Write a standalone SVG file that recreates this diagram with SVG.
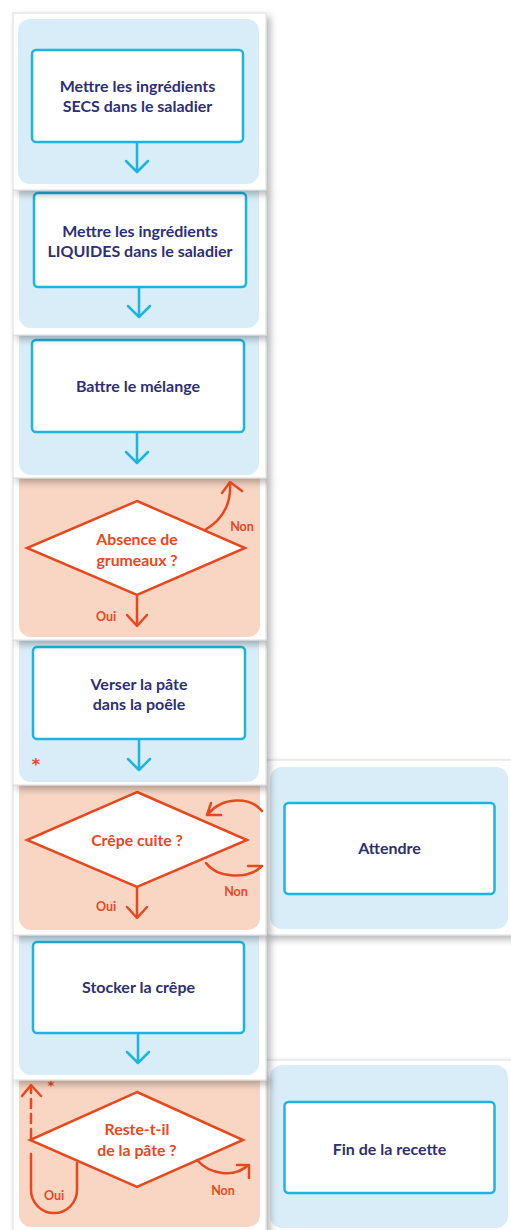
<svg xmlns="http://www.w3.org/2000/svg" width="511" height="1230" viewBox="0 0 511 1230">
<defs>
<filter id="sh" x="-10%" y="-10%" width="130%" height="130%">
<feDropShadow dx="4" dy="4" stdDeviation="3.5" flood-color="#000" flood-opacity="0.28"/>
</filter>
<style>
.card{fill:#fff;stroke:#dcdcdc;stroke-width:1}
.bbg{fill:#d9edf8}
.obg{fill:#f9d6c4}
.box{fill:#fff;stroke:#1cb4e0;stroke-width:2.5}
.dia{fill:#fff;stroke:#e7481e;stroke-width:2.5;stroke-linejoin:miter}
.bar{fill:none;stroke:#1cb4e0;stroke-width:2.5;stroke-linecap:round;stroke-linejoin:round}
.oar{fill:none;stroke:#e7481e;stroke-width:2.5;stroke-linecap:round;stroke-linejoin:round}
.t{font-family:Lato,"Liberation Sans",sans-serif;font-weight:700;font-size:16px;fill:#2d2f78;text-anchor:middle}
.d{font-family:Lato,"Liberation Sans",sans-serif;font-weight:700;font-size:15.8px;fill:#e7481e;text-anchor:middle}
.l{font-family:Lato,"Liberation Sans",sans-serif;font-weight:700;font-size:12.5px;fill:#e7481e;text-anchor:middle}
.ast{font-family:"DejaVu Sans",sans-serif;font-weight:700;font-size:16px;fill:#e7481e;text-anchor:middle}
</style>
</defs>

<g id="tile-fin">
<rect class="card" x="265" y="1060" width="250" height="175" filter="url(#sh)"/>
<rect class="bbg" x="270" y="1065" width="238" height="163" rx="12"/>
<rect class="box" x="284.5" y="1102" width="210" height="91" rx="4"/>
<text class="t" x="389.5" y="1155">Fin de la recette</text>
</g>

<g id="tile-attendre">
<rect class="card" x="265" y="760" width="250" height="175" filter="url(#sh)"/>
<rect class="bbg" x="270" y="767" width="238" height="162" rx="12"/>
<rect class="box" x="284.5" y="803" width="210" height="91" rx="4"/>
<text class="t" x="389.5" y="854">Attendre</text>
</g>

<g id="tile-reste">
<rect class="card" x="13" y="1075" width="253" height="160" filter="url(#sh)"/>
<rect class="obg" x="19" y="1070" width="241" height="157" rx="12"/>
<text class="ast" x="51" y="1090" style="font-size:13px">*</text>
<polygon class="dia" points="137,1092 243,1140 137,1187 30,1140"/>
<text class="d" x="137" y="1135">Reste-t-il</text>
<text class="d" x="137" y="1156">de la pâte ?</text>
</g>

<g id="tile-stocker">
<rect class="card" x="13" y="935" width="253" height="145" filter="url(#sh)"/>
<rect class="bbg" x="19" y="920" width="240" height="155" rx="12"/>
<rect class="box" x="33" y="942" width="211" height="91" rx="4"/>
<text class="t" x="138.5" y="993">Stocker la crêpe</text>
</g>

<g id="tile-crepe">
<rect class="card" x="13" y="785" width="253" height="150" filter="url(#sh)"/>
<rect class="obg" x="19" y="775" width="241" height="155" rx="12"/>
<polygon class="dia" points="137,792 247,840 137,887 27,840"/>
<text class="d" x="137" y="846">Crêpe cuite ?</text>
</g>

<g id="tile-verser">
<rect class="card" x="13" y="640" width="253" height="145" filter="url(#sh)"/>
<rect class="bbg" x="19" y="625" width="240" height="157" rx="12"/>
<rect class="box" x="33" y="647" width="212" height="92" rx="4"/>
<text class="t" x="139" y="690">Verser la pâte</text>
<text class="t" x="139" y="710">dans la poêle</text>
<text class="ast" x="36" y="770">*</text>
</g>

<g id="tile-absence">
<rect class="card" x="13" y="478" width="253" height="162" filter="url(#sh)"/>
<rect class="obg" x="19" y="470" width="241" height="167" rx="12"/>
<polygon class="dia" points="137,501 245,548 137,595 27,548"/>
<text class="d" x="137" y="545">Absence de</text>
<text class="d" x="137" y="566">grumeaux ?</text>
</g>

<g id="tile-battre">
<rect class="card" x="13" y="335" width="253" height="143" filter="url(#sh)"/>
<rect class="bbg" x="19" y="320" width="240" height="155" rx="12"/>
<rect class="box" x="32" y="340" width="212" height="92" rx="4"/>
<text class="t" x="138" y="392">Battre le mélange</text>
</g>

<g id="tile-liquides">
<rect class="card" x="13" y="190" width="253" height="145" filter="url(#sh)"/>
<rect class="bbg" x="19" y="175" width="240" height="153" rx="12"/>
<rect class="box" x="34" y="193" width="212" height="94" rx="4"/>
<text class="t" x="140" y="237">Mettre les ingrédients</text>
<text class="t" x="140" y="257">LIQUIDES dans le saladier</text>
</g>

<g id="tile-secs">
<rect class="card" x="13" y="13" width="253" height="177" filter="url(#sh)"/>
<rect class="bbg" x="18" y="19" width="241" height="165" rx="12"/>
<rect class="box" x="32" y="50" width="211" height="92" rx="4"/>
<text class="t" x="137.5" y="92">Mettre les ingrédients</text>
<text class="t" x="137.5" y="112">SECS dans le saladier</text>
</g>

<g id="connectors">
<path class="bar" d="M137,143 V171 M126,161 L137,172 L148,161"/>
<path class="bar" d="M139,288 V316 M128,306 L139,317 L150,306"/>
<path class="bar" d="M137,433 V462 M126,452 L137,463 L148,452"/>
<path class="bar" d="M139,740 V769 M128,759 L139,770 L150,759"/>
<path class="bar" d="M138,1034 V1062 M127,1052 L138,1063 L149,1052"/>

<path class="oar" d="M137,596 V625 M127,615 L137,626 L147,615"/>
<path class="oar" d="M205,530 Q232,514 230,483 M222,493 L230,482 L242,491"/>

<path class="oar" d="M137,888 V917 M127,907 L137,918 L147,907"/>
<path class="oar" d="M262,811 C250,796 222,797 208,814 M211,803 L207,815 L221,815"/>
<path class="oar" d="M206,863 C218,879 248,879 261,867 M248,866 L262,866"/>

<path class="oar" d="M31,1154 V1190 A23,23 0 0 0 77,1190 V1163"/>
<path class="oar" d="M31,1138 V1086" stroke-dasharray="9,6"/>
<path class="oar" d="M22,1096 L31,1085 L41,1096"/>
<path class="oar" d="M197,1160 C210,1175 235,1178 248,1165 M237,1165 L249,1165 L249,1178"/>
</g>

<g id="labels">
<text class="l" x="106" y="621">Oui</text>
<text class="l" x="242" y="531">Non</text>
<text class="l" x="106" y="911">Oui</text>
<text class="l" x="236" y="896">Non</text>
<text class="l" x="54" y="1200">Oui</text>
<text class="l" x="223" y="1195">Non</text>
</g>
</svg>
